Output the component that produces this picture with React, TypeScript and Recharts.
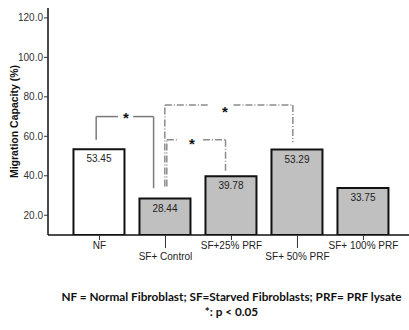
import React from "react";
import {
  BarChart,
  Bar,
  XAxis,
  YAxis,
  Cell,
  LabelList,
  ReferenceLine,
  ReferenceDot,
} from "recharts";

// groups and mean migration capacity (%)
const categories = ["NF", "SF+ Control", "SF+25% PRF", "SF+ 50% PRF", "SF+ 100% PRF"];
const migration = [53.45, 28.44, 39.78, 53.29, 33.75];
const yTicks = [20, 40, 60, 80, 100, 120];
const xTicks = [0, 1, 2, 3, 4];

// significance brackets, x in category units (0 = NF), y in %
const bracketLeftX = [-0.05, 0.99, 1.02];
const bracketRightX = [0.82, 2.93, 1.91];
const bracketTop = [70, 75.8, 58.3];
const bracketLeftBottom = [58.3, 34.6, 34.6];
const bracketRightBottom = [33.7, 57, 42.2];
const gapStart = [0.28, 1.64, 1.19];
const gapEnd = [0.51, 2.03, 1.57];
const starX = [0.4, 1.9, 1.4];
const starY = [69.2, 72.4, 56.2];

const data = categories.map((name, i) => ({ idx: i, name, value: migration[i] }));

const FONT = "'Liberation Sans', Arial, sans-serif";

const CatTick = (props: any) => {
  const { x, y, payload, index } = props;
  const low = index % 2 === 1;
  return (
    <g>
      <line x1={x} x2={x} y1={y} y2={y + (low ? 13 : 5)} stroke="#333" strokeWidth={1} />
      <text
        x={x}
        y={y + (low ? 24.5 : 13.5)}
        textAnchor="middle"
        fontSize={10}
        fontFamily={FONT}
        fill="#222"
      >
        {categories[payload.value]}
      </text>
    </g>
  );
};

const noteStyle: React.CSSProperties = {
  position: "absolute",
  left: 0,
  width: 409,
  paddingLeft: 54,
  boxSizing: "border-box",
  textAlign: "center",
  fontFamily: "Lato, sans-serif",
  fontWeight: "bold",
  fontSize: 11.75,
  lineHeight: "12px",
  color: "#111",
  whiteSpace: "nowrap",
};

export default function App() {
  const segs: { pts: [number, number][]; dash?: string; color: string }[] = [];
  bracketTop.forEach((top, i) => {
    const dash = i === 0 ? undefined : "7 2 1 2";
    const color = i === 0 ? "#7a7a7a" : "#8c8c8c";
    segs.push({ pts: [[bracketLeftX[i], bracketLeftBottom[i]], [bracketLeftX[i], top]], dash, color });
    segs.push({ pts: [[bracketLeftX[i], top], [gapStart[i], top]], dash, color });
    segs.push({ pts: [[gapEnd[i], top], [bracketRightX[i], top]], dash, color });
    segs.push({ pts: [[bracketRightX[i], top], [bracketRightX[i], bracketRightBottom[i]]], dash, color });
  });

  return (
    <div style={{ position: "absolute", left: 0, top: 0, width: 409, height: 330, background: "#fff" }}>
      <BarChart
        width={409}
        height={330}
        data={data}
        margin={{ top: 8, right: 0, bottom: 65, left: 0 }}
      >
        <XAxis
          dataKey="idx"
          type="number"
          domain={[-0.78, 4.69]}
          allowDataOverflow
          ticks={xTicks}
          interval={0}
          axisLine={{ stroke: "#111", strokeWidth: 1.5 }}
          tickLine={false}
          tickSize={0}
          tickMargin={0}
          tick={<CatTick />}
        />
        <YAxis
          width={48}
          domain={[10, 125]}
          ticks={yTicks}
          allowDataOverflow
          tickFormatter={(v: number) => v.toFixed(1)}
          axisLine={{ stroke: "#111", strokeWidth: 1.5 }}
          tickLine={{ stroke: "#333" }}
          tickSize={4}
          tickMargin={1}
          tick={{ fontSize: 10, fill: "#333", fontFamily: FONT }}
          label={{
            value: "Migration Capacity (%)",
            angle: -90,
            position: "insideLeft",
            offset: 14,
            style: { textAnchor: "middle", fontSize: 10.5, fontWeight: "bold", fill: "#111", fontFamily: FONT },
          }}
        />
        <Bar dataKey="value" barSize={51} stroke="#111" strokeWidth={2} isAnimationActive={false}>
          {data.map((d, i) => (
            <Cell key={d.name} fill={i === 0 ? "#ffffff" : "#c0c0c0"} />
          ))}
          <LabelList
            dataKey="value"
            position="insideTop"
            offset={6}
            formatter={(v: number) => v.toFixed(2)}
            style={{ fontSize: 10, fill: "#222", fontFamily: FONT }}
          />
        </Bar>
        {segs.map((s, i) => (
          <ReferenceLine
            key={i}
            segment={[
              { x: s.pts[0][0], y: s.pts[0][1] },
              { x: s.pts[1][0], y: s.pts[1][1] },
            ]}
            stroke={s.color}
            strokeWidth={1.5}
            strokeDasharray={s.dash}
            ifOverflow="visible"
          />
        ))}
        {starX.map((sx, i) => (
          <ReferenceDot
            key={"s" + i}
            x={sx}
            y={starY[i]}
            r={0}
            fill="none"
            stroke="none"
            ifOverflow="visible"
            label={{ value: "*", position: "center", fontSize: 15, fontWeight: "bold", fill: "#111", fontFamily: FONT }}
          />
        ))}
      </BarChart>
      <div style={{ ...noteStyle, top: 291 }}>
        NF = Normal Fibroblast; SF=Starved Fibroblasts; PRF= PRF lysate
      </div>
      <div style={{ ...noteStyle, top: 305.5 }}>*: p &lt; 0.05</div>
    </div>
  );
}
